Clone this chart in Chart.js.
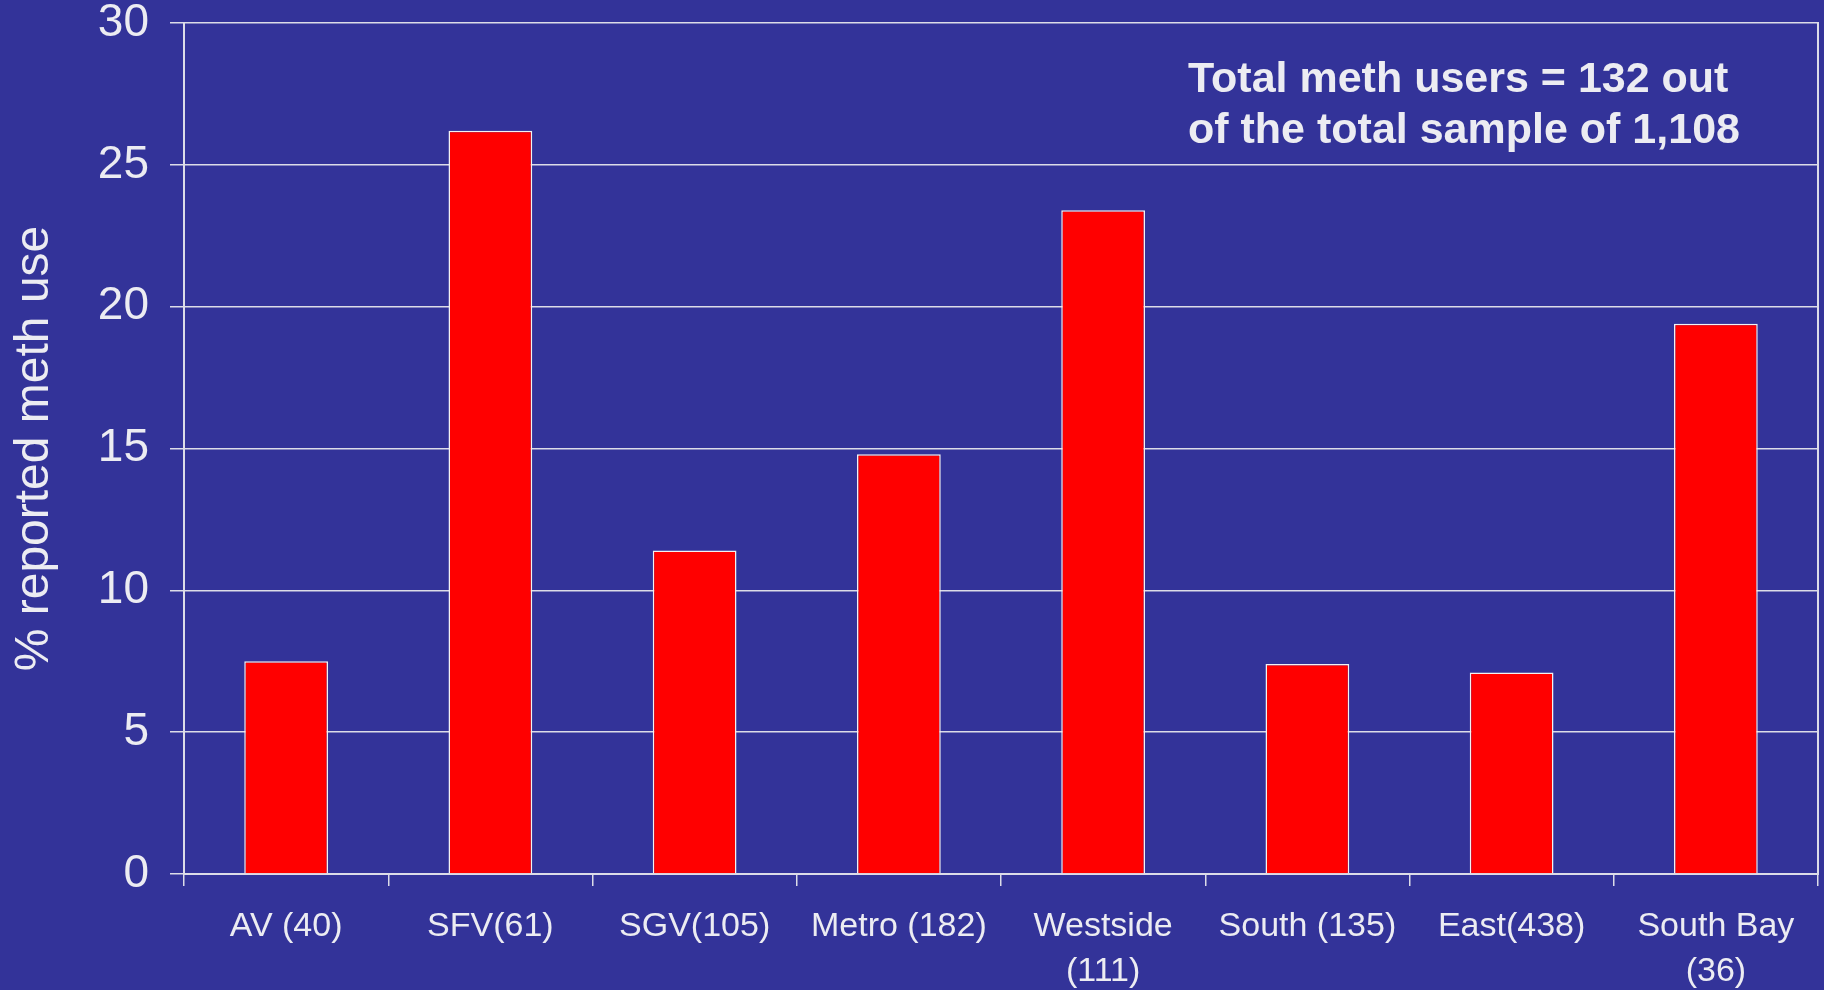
<!DOCTYPE html>
<html>
<head>
<meta charset="utf-8">
<title>Reported meth use by SPA</title>
<script src="https://cdn.jsdelivr.net/npm/chart.js@4/dist/chart.umd.min.js"></script>
<style>
  html, body { margin: 0; padding: 0; background: #333399; }
  #chart { display: block; }
</style>
</head>
<body>
<canvas id="chart" width="1824" height="990"></canvas>
<script>
const areas = ['AV (40)', 'SFV(61)', 'SGV(105)', 'Metro (182)', ['Westside', '(111)'], 'South (135)', 'East(438)', ['South Bay', '(36)']];
const methUse = [7.5, 26.2, 11.4, 14.8, 23.4, 7.4, 7.1, 19.4];
const noteLines = ['Total meth users = 132 out', 'of the total sample of 1,108'];

const BG = '#333399';
const INK = '#ececf2';
const GRID = '#dcdce8';

const bgAndNote = {
    id: 'bgAndNote',
    beforeDraw(chart) {
        const ctx = chart.ctx;
        ctx.save();
        ctx.fillStyle = BG;
        ctx.fillRect(0, 0, chart.width, chart.height);
        ctx.restore();
    },
    afterDraw(chart) {
        const ctx = chart.ctx;
        ctx.save();
        ctx.fillStyle = INK;
        ctx.font = 'bold 43px "Liberation Sans", Arial, sans-serif';
        ctx.textBaseline = 'alphabetic';
        ctx.fillText(noteLines[0], 1188, 92);
        ctx.fillText(noteLines[1], 1188, 143);
        ctx.restore();
    }
};

new Chart(document.getElementById('chart'), {
    type: 'bar',
    data: {
        labels: areas,
        datasets: [{
            data: methUse,
            backgroundColor: '#ff0000',
            borderColor: '#f2f2f2',
            borderWidth: 1.5,
            borderSkipped: 'bottom',
            barPercentage: 0.41,
            categoryPercentage: 1
        }]
    },
    options: {
        responsive: false,
        animation: false,
        layout: { padding: { top: 0, right: 6, left: 0, bottom: 0 } },
        plugins: {
            legend: { display: false },
            tooltip: { enabled: false }
        },
        scales: {
            x: {
                offset: true,
                grid: {
                    offset: true,
                    drawOnChartArea: false,
                    color: GRID,
                    lineWidth: 1.5,
                    tickLength: 12
                },
                border: { color: GRID, width: 2 },
                ticks: {
                    color: INK,
                    padding: 19,
                    maxRotation: 0,
                    autoSkip: false,
                    font: { family: '"Liberation Sans", Arial, sans-serif', size: 34, lineHeight: 1.3 }
                },
                afterFit(scale) { scale.height = 116; }
            },
            y: {
                min: 0,
                max: 30,
                ticks: {
                    stepSize: 5,
                    color: INK,
                    padding: 21,
                    font: { family: '"Liberation Sans", Arial, sans-serif', size: 46 }
                },
                grid: {
                    color: GRID,
                    lineWidth: 1.5,
                    tickLength: 14
                },
                border: { color: GRID, width: 2 },
                title: {
                    display: true,
                    text: '% reported meth use',
                    color: INK,
                    padding: { top: 6, bottom: 0 },
                    font: { family: '"Liberation Sans", Arial, sans-serif', size: 48, weight: 'normal' }
                },
                afterFit(scale) {
                    scale.width = 184;
                    scale.paddingTop = 23;
                    scale.paddingBottom = 0;
                }
            },
            yRight: {
                position: 'right',
                min: 0,
                max: 30,
                ticks: { display: false },
                grid: { display: false },
                border: { display: true, color: GRID, width: 2 },
                afterFit(scale) {
                    scale.width = 0;
                    scale.paddingTop = 0;
                    scale.paddingBottom = 0;
                }
            }
        }
    },
    plugins: [bgAndNote]
});
</script>
</body>
</html>
